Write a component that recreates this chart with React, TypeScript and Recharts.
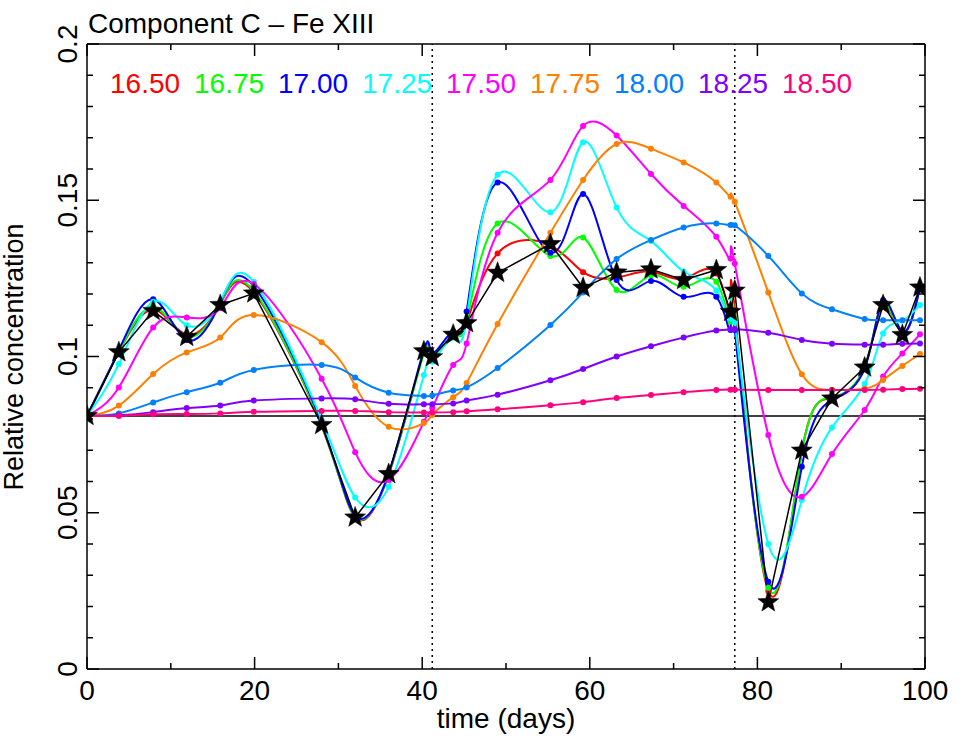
import React from "react"
import { LineChart, Line, XAxis, YAxis, ReferenceLine } from "recharts"

// observation times (days)
const days = [0, 3.8, 7.9, 11.9, 15.9, 19.9, 28.0, 32.0, 36.0, 40.2, 41.2, 43.7, 45.3, 49.0, 55.3, 59.2, 63.2, 67.3, 71.2, 75.1, 76.8, 77.3, 81.3, 85.3, 88.9, 92.8, 95.0, 97.3, 99.4]

// relative concentration per log T
const t1650 = [0.081, 0.1015, 0.115, 0.107, 0.1168, 0.1205, 0.0778, 0.0485, 0.0622, 0.1015, 0.0998, 0.1072, 0.111, 0.133, 0.1355, 0.127, 0.1252, 0.1272, 0.125, 0.1266, 0.1145, 0.1148, 0.025, 0.0695, 0.0866, 0.0966, 0.1168, 0.1075, 0.1222]
const t1675 = [0.081, 0.1015, 0.116, 0.1063, 0.117, 0.121, 0.0779, 0.0487, 0.0624, 0.101, 0.0998, 0.107, 0.111, 0.1426, 0.1322, 0.1381, 0.1213, 0.126, 0.1223, 0.1239, 0.1112, 0.112, 0.026, 0.0695, 0.087, 0.0968, 0.117, 0.1078, 0.1222]
const t1700 = [0.081, 0.102, 0.1183, 0.1053, 0.1172, 0.1225, 0.0785, 0.049, 0.0626, 0.1022, 0.101, 0.108, 0.1144, 0.1557, 0.1332, 0.152, 0.1245, 0.1242, 0.1191, 0.1191, 0.1085, 0.1085, 0.0279, 0.0647, 0.0861, 0.0962, 0.118, 0.108, 0.122]
const t1725 = [0.081, 0.0976, 0.1175, 0.11, 0.1175, 0.1239, 0.0797, 0.0549, 0.0583, 0.0941, 0.0983, 0.106, 0.112, 0.1582, 0.1462, 0.1686, 0.1477, 0.137, 0.1272, 0.1211, 0.1122, 0.111, 0.04, 0.0541, 0.0773, 0.0912, 0.1074, 0.1115, 0.1165]
const t1750 = [0.081, 0.0901, 0.1093, 0.1125, 0.1155, 0.1232, 0.0929, 0.0694, 0.0605, 0.0791, 0.0835, 0.0973, 0.1042, 0.1396, 0.1565, 0.1738, 0.1707, 0.1584, 0.1482, 0.1383, 0.1314, 0.1298, 0.0749, 0.0551, 0.0688, 0.0829, 0.0936, 0.101, 0.1071]
const t1775 = [0.081, 0.0843, 0.0944, 0.1013, 0.1061, 0.1133, 0.1046, 0.0906, 0.0775, 0.0787, 0.0813, 0.087, 0.0915, 0.1104, 0.1396, 0.1565, 0.168, 0.1665, 0.1621, 0.1557, 0.1511, 0.1495, 0.1205, 0.0943, 0.0893, 0.0897, 0.0925, 0.097, 0.1008]
const t1800 = [0.081, 0.0818, 0.0853, 0.0886, 0.0916, 0.0957, 0.0973, 0.0933, 0.0884, 0.0874, 0.0875, 0.0891, 0.0901, 0.0963, 0.1101, 0.1205, 0.1312, 0.1373, 0.1413, 0.1426, 0.1421, 0.142, 0.1322, 0.1202, 0.1151, 0.112, 0.1116, 0.1116, 0.1116]
const t1825 = [0.081, 0.0812, 0.0822, 0.0835, 0.0843, 0.0859, 0.0866, 0.0863, 0.0849, 0.0847, 0.0847, 0.085, 0.0859, 0.0878, 0.0924, 0.096, 0.1, 0.1033, 0.1061, 0.1083, 0.1087, 0.1088, 0.1076, 0.1053, 0.1041, 0.1038, 0.1038, 0.1041, 0.1042]
const t1850 = [0.081, 0.081, 0.0815, 0.0816, 0.0818, 0.0823, 0.0826, 0.0826, 0.0822, 0.0821, 0.0821, 0.0822, 0.0825, 0.0831, 0.0844, 0.0854, 0.0867, 0.0877, 0.0886, 0.0893, 0.0894, 0.0894, 0.0893, 0.0893, 0.0893, 0.0893, 0.0894, 0.0896, 0.0897]
// combined (stars)
const combined = [0.081, 0.1014, 0.1146, 0.1063, 0.1165, 0.1202, 0.0781, 0.0485, 0.0624, 0.1017, 0.0998, 0.107, 0.1107, 0.1268, 0.136, 0.122, 0.1269, 0.1279, 0.1245, 0.1277, 0.1143, 0.1211, 0.0214, 0.0699, 0.0866, 0.0965, 0.1165, 0.1069, 0.1221]

const seriesLabels = ["16.50", "16.75", "17.00", "17.25", "17.50", "17.75", "18.00", "18.25", "18.50"]
const seriesColors = ["#ff0000", "#00ff00", "#0000ff", "#00ffff", "#ff00ff", "#ff8000", "#0080ff", "#8000ff", "#ff0080"]
const seriesValues = [t1650, t1675, t1700, t1725, t1750, t1775, t1800, t1825, t1850]

const xTicks = [0, 10, 20, 30, 40, 50, 60, 70, 80, 90, 100]
const yTicks = [0, 0.01, 0.02, 0.03, 0.04, 0.05, 0.06, 0.07, 0.08, 0.09, 0.1, 0.11, 0.12, 0.13, 0.14, 0.15, 0.16, 0.17, 0.18, 0.19, 0.2]
const baseline = 0.081
const markerDays = [41.2, 77.3]

const data = days.map((t, i) => {
  const row: Record<string, number> = { t, combined: combined[i] }
  seriesValues.forEach((vals, k) => {
    row["s" + k] = vals[i]
  })
  return row
})

const FONT = "'Liberation Sans', Arial, Helvetica, sans-serif"

const isMajorY = (v: number) => Math.round(v * 100) % 5 === 0
const fmtY = (v: number) => String(Math.round(v * 100) / 100)

const BottomTick = (props: any) => {
  const { x, y, payload } = props
  const major = payload.value % 20 === 0
  return (
    <g>
      <line x1={x} y1={y} x2={x} y2={y - (major ? 12 : 6)} stroke="#000" strokeWidth={1.5} />
      {major && (
        <text x={x} y={y + 31} textAnchor="middle" fontSize={28} fontFamily={FONT} fill="#000">
          {payload.value}
        </text>
      )}
    </g>
  )
}

const TopTick = (props: any) => {
  const { x, y, payload } = props
  const major = payload.value % 20 === 0
  return <line x1={x} y1={y} x2={x} y2={y + (major ? 12 : 6)} stroke="#000" strokeWidth={1.5} />
}

const LeftTick = (props: any) => {
  const { x, y, payload } = props
  const major = isMajorY(payload.value)
  const lx = x - 10
  return (
    <g>
      <line x1={x} y1={y} x2={x + (major ? 12 : 6)} y2={y} stroke="#000" strokeWidth={1.5} />
      {major && (
        <text
          x={lx}
          y={y}
          transform={`rotate(-90, ${lx}, ${y})`}
          textAnchor="middle"
          fontSize={28}
          fontFamily={FONT}
          fill="#000"
        >
          {fmtY(payload.value)}
        </text>
      )}
    </g>
  )
}

const RightTick = (props: any) => {
  const { x, y, payload } = props
  const major = isMajorY(payload.value)
  return <line x1={x} y1={y} x2={x - (major ? 12 : 6)} y2={y} stroke="#000" strokeWidth={1.5} />
}

const renderStar = (props: any) => {
  const { cx, cy, index } = props
  if (cx == null || cy == null) return <g key={`star-${index}`} />
  const pts: string[] = []
  for (let i = 0; i < 10; i++) {
    const r = i % 2 === 0 ? 11 : 4.6
    const a = -Math.PI / 2 + (i * Math.PI) / 5
    pts.push(`${cx + r * Math.cos(a)},${cy + r * Math.sin(a)}`)
  }
  return <polygon key={`star-${index}`} points={pts.join(" ")} fill="#000" stroke="#000" strokeWidth={0.5} />
}

export default function App() {
  return (
    <div style={{ position: "absolute", left: 0, top: 0, width: 968, height: 739, background: "#fff" }}>
      <LineChart width={968} height={739} data={data} margin={{ top: 14, right: 13, bottom: 40, left: 57 }}>
        <XAxis
          dataKey="t"
          type="number"
          domain={[0, 100]}
          ticks={xTicks}
          allowDataOverflow
          height={30}
          tickSize={0}
          tickMargin={0}
          tickLine={false}
          tick={<BottomTick />}
          axisLine={{ stroke: "#000", strokeWidth: 1.5 }}
          interval={0}
        />
        <XAxis
          xAxisId="top"
          orientation="top"
          dataKey="t"
          type="number"
          domain={[0, 100]}
          ticks={xTicks}
          allowDataOverflow
          height={30}
          tickSize={0}
          tickMargin={0}
          tickLine={false}
          tick={<TopTick />}
          axisLine={{ stroke: "#000", strokeWidth: 1.5 }}
          interval={0}
        />
        <YAxis
          type="number"
          domain={[0, 0.2]}
          ticks={yTicks}
          allowDataOverflow
          width={30}
          tickSize={0}
          tickMargin={0}
          tickLine={false}
          tick={<LeftTick />}
          axisLine={{ stroke: "#000", strokeWidth: 1.5 }}
          interval={0}
        />
        <YAxis
          yAxisId="right"
          orientation="right"
          type="number"
          domain={[0, 0.2]}
          ticks={yTicks}
          allowDataOverflow
          width={30}
          tickSize={0}
          tickMargin={0}
          tickLine={false}
          tick={<RightTick />}
          axisLine={{ stroke: "#000", strokeWidth: 1.5 }}
          interval={0}
        />
        <ReferenceLine y={baseline} stroke="#000" strokeWidth={1.5} />
        {markerDays.map((d) => (
          <ReferenceLine key={d} x={d} stroke="#000" strokeWidth={1.5} strokeDasharray="2 4" />
        ))}
        {seriesValues.map((_, k) => (
          <Line
            key={k}
            type="natural"
            dataKey={"s" + k}
            stroke={seriesColors[k]}
            strokeWidth={2}
            dot={{ r: 3, fill: seriesColors[k], stroke: "none", strokeWidth: 0 }}
            isAnimationActive={false}
          />
        ))}
        <Line
          type="linear"
          dataKey="combined"
          stroke="#000"
          strokeWidth={1.5}
          dot={renderStar}
          isAnimationActive={false}
        />
      </LineChart>
      <svg
        width={968}
        height={739}
        style={{ position: "absolute", left: 0, top: 0, pointerEvents: "none" }}
        fontFamily={FONT}
      >
        <text x={88} y={33} fontSize={28} fill="#000">
          Component C – Fe XIII
        </text>
        {seriesLabels.map((lab, k) => (
          <text key={lab} x={110 + k * 84} y={93} fontSize={28} fill={seriesColors[k]}>
            {lab}
          </text>
        ))}
        <text x={506} y={728} fontSize={28} textAnchor="middle" fill="#000">
          time (days)
        </text>
        <text x={23} y={357} fontSize={27} textAnchor="middle" fill="#000" transform="rotate(-90, 23, 357)">
          Relative concentration
        </text>
      </svg>
    </div>
  )
}
